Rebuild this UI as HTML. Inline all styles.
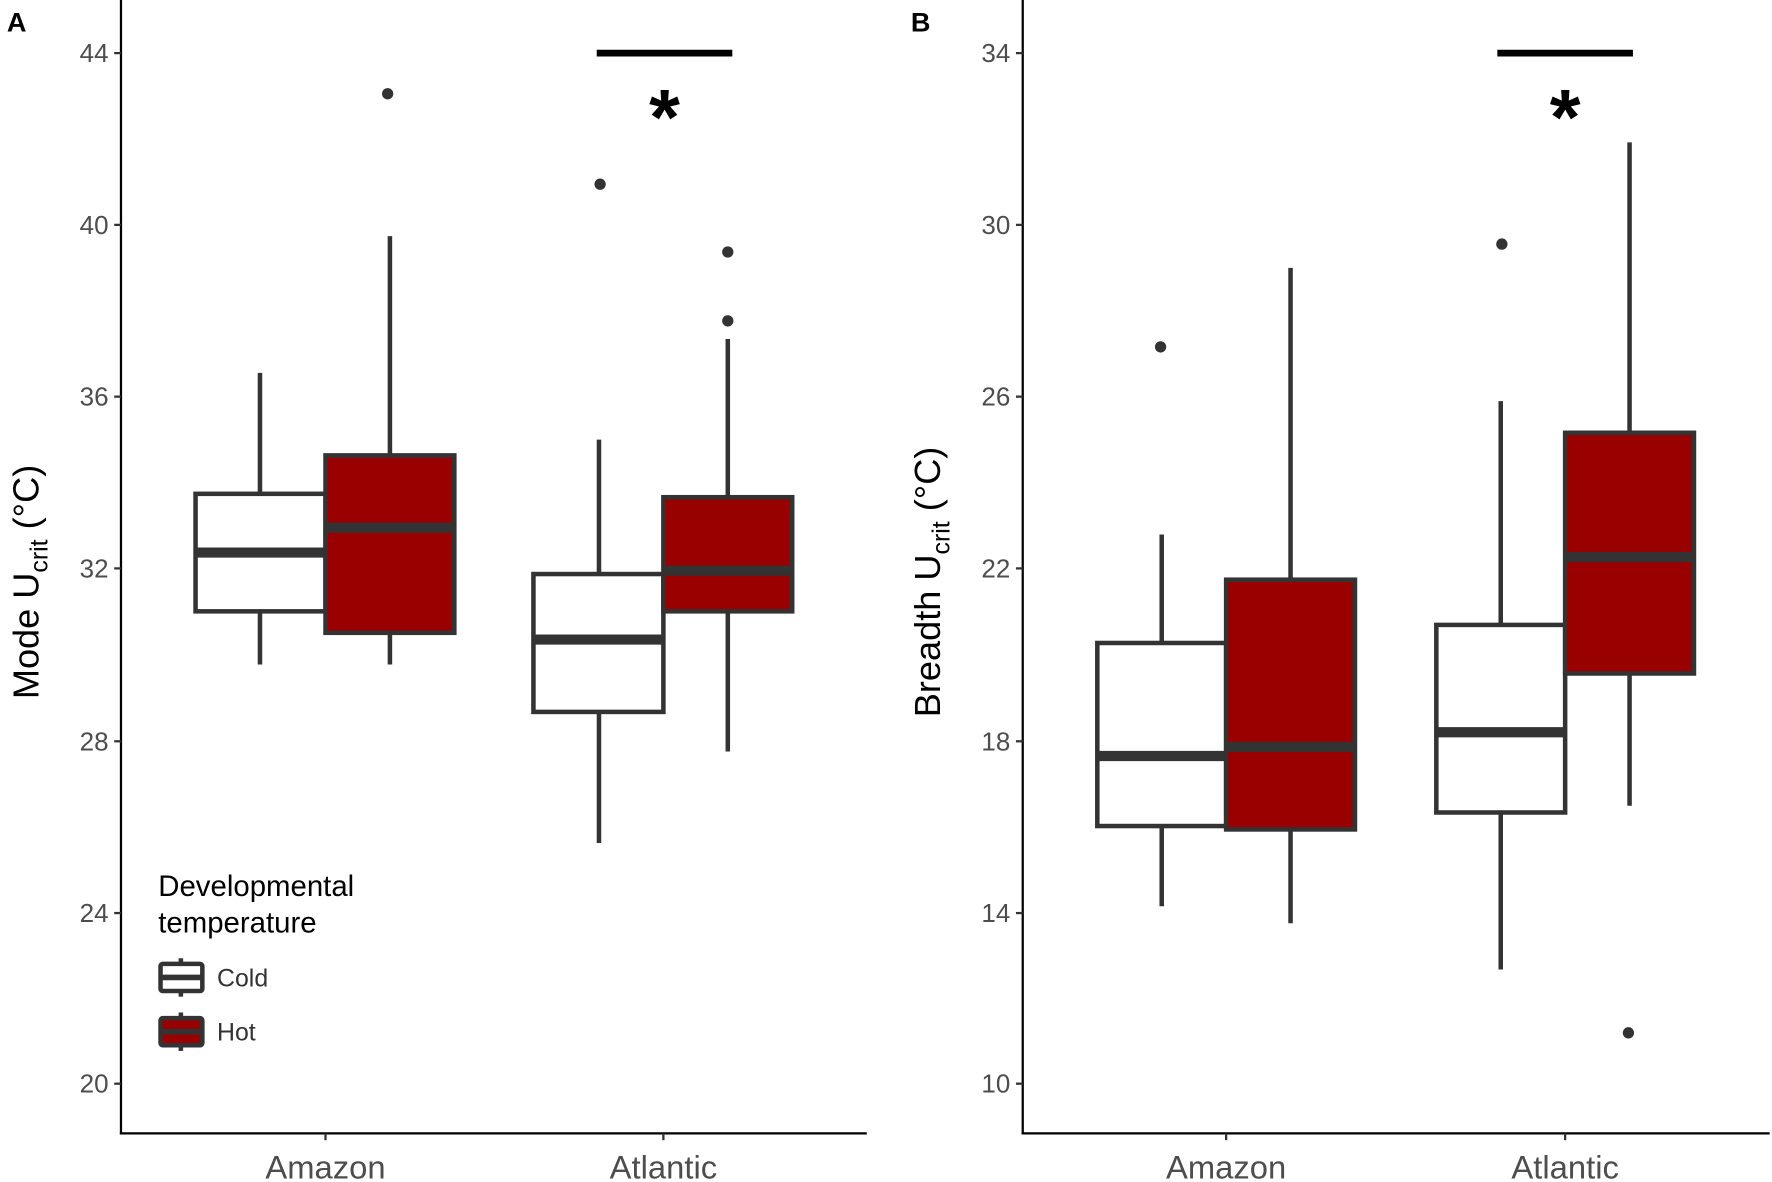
<!DOCTYPE html>
<html><head><meta charset="utf-8"><style>html,body{margin:0;padding:0;background:#fff}svg{display:block}</style></head>
<body>
<svg width="1772" height="1182" viewBox="0 0 1568 1046" xmlns="http://www.w3.org/2000/svg" font-family="Liberation Sans, sans-serif">
<rect width="1568" height="1046" fill="#fff"/>
<!-- Panel A -->
<text x="6" y="28" font-size="24" font-weight="bold">A</text>
<line x1="107" y1="0" x2="107" y2="1004" stroke="#000" stroke-width="2"/>
<line x1="106" y1="1003" x2="767" y2="1003" stroke="#000" stroke-width="2"/>
<g stroke="#333" stroke-width="2">
<line x1="101" y1="47" x2="107" y2="47"/><line x1="101" y1="199" x2="107" y2="199"/><line x1="101" y1="351" x2="107" y2="351"/><line x1="101" y1="503" x2="107" y2="503"/><line x1="101" y1="656" x2="107" y2="656"/><line x1="101" y1="808" x2="107" y2="808"/><line x1="101" y1="959" x2="107" y2="959"/>
<line x1="288" y1="1003" x2="288" y2="1009"/><line x1="587" y1="1003" x2="587" y2="1009"/>
</g>
<g font-size="23" fill="#4d4d4d" text-anchor="end">
<text x="96" y="55">44</text><text x="96" y="207">40</text><text x="96" y="359">36</text><text x="96" y="511">32</text><text x="96" y="664">28</text><text x="96" y="816">24</text><text x="96" y="967">20</text>
</g>
<g font-size="29" fill="#4d4d4d" text-anchor="middle"><text x="288" y="1043">Amazon</text><text x="587" y="1043">Atlantic</text></g>
<text transform="translate(34,515) rotate(-90)" font-size="32" text-anchor="middle">Mode U<tspan font-size="22" dy="8">crit</tspan><tspan dy="-8"> (°C)</tspan></text>
<g stroke="#333" stroke-width="4">
<line x1="230" y1="330" x2="230" y2="588"/><rect x="173" y="437" width="115" height="104" fill="#fff"/><line x1="173" y1="489" x2="288" y2="489" stroke-width="9"/>
<line x1="345" y1="209" x2="345" y2="588"/><rect x="288" y="403" width="114" height="157" fill="#990000"/><line x1="288" y1="467" x2="402" y2="467" stroke-width="9"/>
<line x1="530" y1="389" x2="530" y2="746"/><rect x="472" y="508" width="115" height="122" fill="#fff"/><line x1="472" y1="566" x2="587" y2="566" stroke-width="9"/>
<line x1="644" y1="300" x2="644" y2="665"/><rect x="587" y="440" width="114" height="101" fill="#990000"/><line x1="587" y1="505" x2="701" y2="505" stroke-width="9"/>
</g>
<g fill="#333"><circle cx="343" cy="83" r="5"/><circle cx="531" cy="163" r="5"/><circle cx="644" cy="223" r="5"/><circle cx="644" cy="284" r="5"/></g>
<line x1="528" y1="47" x2="648" y2="47" stroke="#000" stroke-width="6"/>
<text x="588" y="128" font-size="70" font-weight="bold" text-anchor="middle">*</text>
<text x="140" y="793" font-size="26">Developmental</text>
<text x="140" y="825" font-size="26">temperature</text>
<g stroke="#333" stroke-width="4">
<line x1="160" y1="848" x2="160" y2="882"/><rect x="142" y="853" width="37" height="24" rx="2" fill="#fff"/><line x1="142" y1="865" x2="179" y2="865" stroke-width="5"/>
<line x1="160" y1="896" x2="160" y2="930"/><rect x="142" y="901" width="37" height="24" rx="2" fill="#990000"/><line x1="142" y1="913" x2="179" y2="913" stroke-width="5"/>
</g>
<text x="192" y="873" font-size="22" fill="#333">Cold</text>
<text x="192" y="921" font-size="22" fill="#333">Hot</text>
<!-- Panel B -->
<text x="806" y="28" font-size="24" font-weight="bold">B</text>
<line x1="905" y1="0" x2="905" y2="1004" stroke="#000" stroke-width="2"/>
<line x1="904" y1="1003" x2="1566" y2="1003" stroke="#000" stroke-width="2"/>
<g stroke="#333" stroke-width="2">
<line x1="899" y1="47" x2="905" y2="47"/><line x1="899" y1="199" x2="905" y2="199"/><line x1="899" y1="351" x2="905" y2="351"/><line x1="899" y1="503" x2="905" y2="503"/><line x1="899" y1="656" x2="905" y2="656"/><line x1="899" y1="808" x2="905" y2="808"/><line x1="899" y1="959" x2="905" y2="959"/>
<line x1="1085" y1="1003" x2="1085" y2="1009"/><line x1="1385" y1="1003" x2="1385" y2="1009"/>
</g>
<g font-size="23" fill="#4d4d4d" text-anchor="end">
<text x="894" y="55">34</text><text x="894" y="207">30</text><text x="894" y="359">26</text><text x="894" y="511">22</text><text x="894" y="664">18</text><text x="894" y="816">14</text><text x="894" y="967">10</text>
</g>
<g font-size="29" fill="#4d4d4d" text-anchor="middle"><text x="1085" y="1043">Amazon</text><text x="1385" y="1043">Atlantic</text></g>
<text transform="translate(832,515) rotate(-90)" font-size="32" text-anchor="middle">Breadth U<tspan font-size="22" dy="8">crit</tspan><tspan dy="-8"> (°C)</tspan></text>
<g stroke="#333" stroke-width="4">
<line x1="1028" y1="473" x2="1028" y2="802"/><rect x="971" y="569" width="114" height="162" fill="#fff"/><line x1="971" y1="669" x2="1085" y2="669" stroke-width="9"/>
<line x1="1142" y1="237" x2="1142" y2="817"/><rect x="1085" y="513" width="114" height="221" fill="#990000"/><line x1="1085" y1="661" x2="1199" y2="661" stroke-width="9"/>
<line x1="1328" y1="355" x2="1328" y2="858"/><rect x="1271" y="553" width="114" height="166" fill="#fff"/><line x1="1271" y1="648" x2="1385" y2="648" stroke-width="9"/>
<line x1="1442" y1="126" x2="1442" y2="713"/><rect x="1385" y="383" width="114" height="213" fill="#990000"/><line x1="1385" y1="493" x2="1499" y2="493" stroke-width="9"/>
</g>
<g fill="#333"><circle cx="1027" cy="307" r="5"/><circle cx="1329" cy="216" r="5"/><circle cx="1441" cy="914" r="5"/></g>
<line x1="1325" y1="47" x2="1445" y2="47" stroke="#000" stroke-width="6"/>
<text x="1385" y="128" font-size="70" font-weight="bold" text-anchor="middle">*</text>
</svg>
</body></html>
